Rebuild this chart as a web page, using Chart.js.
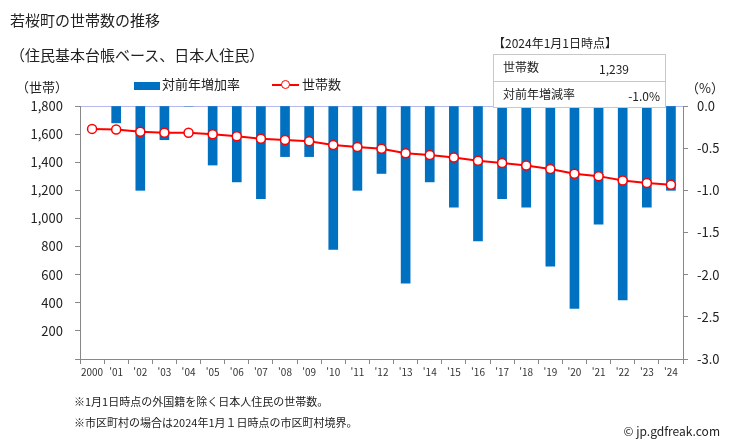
<!DOCTYPE html>
<html lang="ja">
<head>
<meta charset="utf-8">
<title>若桜町の世帯数の推移</title>
<script src="https://cdn.jsdelivr.net/npm/chart.js@4/dist/chart.umd.min.js"></script>
<style>
  body { margin: 0; background: #fff; }
  #wrap { position: relative; width: 729px; height: 445px; font-family: "Noto Sans CJK JP", sans-serif; color: #222; }
  #grafico { position: absolute; left: 0; top: 0; }
  .txt { position: absolute; white-space: nowrap; line-height: 1; }
  #caixa { position: absolute; left: 493px; top: 54px; width: 171px; height: 52px; border: 1px solid #c8c8c8; background: #fff; }
  #caixa .linha { position: absolute; left: 0; width: 171px; height: 26px; }
  #caixa .linha + .linha { border-top: 1px solid #c8c8c8; }
</style>
</head>
<body>
<div id="wrap">
  <canvas id="grafico" width="729" height="445"></canvas>
  <div class="txt" style="left:10px;top:12px;font-size:15px;">若桜町の世帯数の推移</div>
  <div class="txt" style="left:10px;top:47px;font-size:15px;">（住民基本台帳ベース、日本人住民）</div>
  <div class="txt" style="left:16px;top:80px;font-size:13px;">（世帯）</div>
  <div class="txt" style="left:686px;top:81px;font-size:13px;">（%）</div>

  <div style="position:absolute;left:134px;top:82px;width:26px;height:8px;background:#0070C0;"></div>
  <div class="txt" style="left:162px;top:77px;font-size:13px;">対前年増加率</div>
  <div style="position:absolute;left:272px;top:84px;width:27px;height:2px;background:#ff0000;"></div>
  <div style="position:absolute;left:281px;top:80px;width:7px;height:7px;border:1.5px solid #ff0000;border-radius:50%;background:#fff;"></div>
  <div class="txt" style="left:302px;top:77px;font-size:13px;">世帯数</div>

  <div class="txt" style="left:493px;top:37px;font-size:12px;">【2024年1月1日時点】</div>
  <div id="caixa">
    <div class="linha" style="top:0;">
      <span class="txt" style="left:9px;top:6px;font-size:12px;">世帯数</span>
      <span class="txt" style="left:105px;top:8px;font-size:12px;">1,239</span>
    </div>
    <div class="linha" style="top:26px;">
      <span class="txt" style="left:9px;top:6px;font-size:12px;">対前年増減率</span>
      <span class="txt" style="right:5px;top:8px;font-size:12px;">-1.0%</span>
    </div>
  </div>

  <div class="txt" style="left:74px;top:396px;font-size:11px;">※1月1日時点の外国籍を除く日本人住民の世帯数。</div>
  <div class="txt" style="left:74px;top:417px;font-size:11px;">※市区町村の場合は2024年1月１日時点の市区町村境界。</div>
  <div class="txt" style="right:9px;top:425px;font-size:12px;">© jp.gdfreak.com</div>
</div>

<script>
// 年次ラベル
const anos = ['2000', "'01", "'02", "'03", "'04", "'05", "'06", "'07", "'08", "'09", "'10", "'11", "'12",
  "'13", "'14", "'15", "'16", "'17", "'18", "'19", "'20", "'21", "'22", "'23", "'24"];

// 世帯数
const setaiSu = [1637, 1633, 1617, 1610, 1610, 1599, 1585, 1567, 1558, 1549, 1523, 1508, 1496,
  1464, 1451, 1433, 1410, 1394, 1377, 1351, 1318, 1301, 1270, 1252, 1239];

// 対前年増加率 (%)
const taxa = [null, -0.2, -1.0, -0.4, 0.0, -0.7, -0.9, -1.1, -0.6, -0.6, -1.7, -1.0, -0.8,
  -2.1, -0.9, -1.2, -1.6, -1.1, -1.2, -1.9, -2.4, -1.4, -2.3, -1.2, -1.0];

// 軸の目盛り
const eixoEsq = { min: 0, max: 1800, passo: 200 };
const eixoDir = { min: -3.0, max: 0.0, passo: 0.5 };

const fonteTick = { family: '"Noto Sans CJK JP", sans-serif', size: 13 };

function carregarGrafico() {
  const ctx = document.getElementById('grafico').getContext('2d');

  new Chart(ctx, {
    data: {
      labels: anos,
      datasets: [
        {
          type: 'line',
          label: '世帯数',
          data: setaiSu,
          yAxisID: 'y',
          borderColor: '#ff0000',
          borderWidth: 2,
          pointBackgroundColor: '#ffffff',
          pointBorderColor: '#ff0000',
          pointBorderWidth: 1.5,
          pointRadius: 4.5,
          tension: 0,
          order: 0
        },
        {
          type: 'bar',
          label: '対前年増加率',
          data: taxa,
          yAxisID: 'y1',
          backgroundColor: '#0070C0',
          barThickness: 9,
          order: 1
        }
      ]
    },
    options: {
      responsive: false,
      devicePixelRatio: 1,
      animation: false,
      layout: { padding: { left: 0, right: 0, top: 106, bottom: 56 } },
      plugins: {
        legend: { display: false },
        tooltip: { enabled: false }
      },
      scales: {
        x: {
          offset: true,
          grid: { display: true, offset: true, drawOnChartArea: false, tickLength: 5, color: '#888' },
          border: { color: '#888' },
          ticks: { font: { family: fonteTick.family, size: 10 }, color: '#333', padding: 2, maxRotation: 0, autoSkip: false },
          afterFit: s => { s.height = 30; }
        },
        y: {
          position: 'left',
          min: eixoEsq.min,
          max: eixoEsq.max,
          ticks: {
            stepSize: eixoEsq.passo,
            font: fonteTick,
            color: '#222',
            padding: 12,
            // 0 はラベルなし
            callback: v => (v === 0 ? '' : v.toLocaleString('en-US'))
          },
          grid: {
            drawOnChartArea: true,
            tickLength: 5,
            tickColor: '#888',
            color: c => (c.tick && c.tick.value === eixoEsq.max ? '#b8b8f0' : 'rgba(0,0,0,0)')
          },
          border: { color: '#888' },
          afterFit: s => { s.width = 80; }
        },
        y1: {
          position: 'right',
          min: eixoDir.min,
          max: eixoDir.max,
          ticks: {
            stepSize: eixoDir.passo,
            font: fonteTick,
            color: '#222',
            padding: 9,
            callback: v => v.toFixed(1)
          },
          grid: { drawOnChartArea: false, tickLength: 5, color: '#888' },
          border: { color: '#888' },
          afterFit: s => { s.width = 46; }
        }
      }
    }
  });
}

window.addEventListener('DOMContentLoaded', carregarGrafico);
</script>
</body>
</html>
